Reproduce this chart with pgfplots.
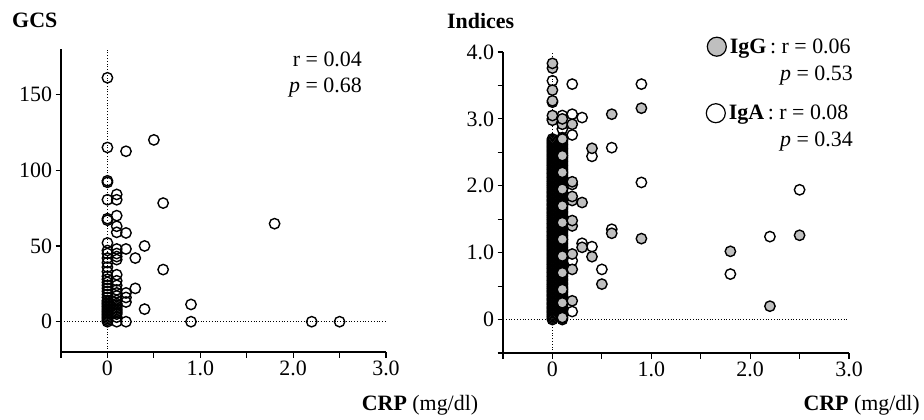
\documentclass[border=0pt]{standalone}
\usepackage{pgfplots}
\pgfplotsset{compat=1.18}
\usepackage{fontspec}
\setmainfont{Liberation Serif}
\newcommand{\fs}{\fontsize{22}{25}\selectfont}
\pgfplotsset{
  crpaxis/.style={
    scale only axis,
    axis lines=left,
    axis line style={-, line width=1.4bp},
    tick align=outside,
    major tick length=5.5bp, minor tick length=5.5bp,
    every tick/.style={black, line width=1.2bp},
    ticklabel style={font=\fs},
    xmin=-0.5, xmax=3,
    xtick={0,1,2,3}, xticklabels={0,1.0,2.0,3.0},
    minor xtick={-0.5,0.5,1.5,2.5},
    clip=false,
  },
  opencirc/.style={only marks, mark=o, mark size=5.2bp, mark options={line width=1.4bp, fill=white, draw=black}},
  filledcirc/.style={only marks, mark=*, mark size=5.2bp, mark options={line width=1.4bp, fill=black!25, draw=black}},
}
\begin{document}
\begin{tikzpicture}[x=1bp,y=1bp]
\useasboundingbox (0,0) rectangle (924,419);
% ---------------- left panel -----------------
\begin{axis}[crpaxis, at={(61bp,67bp)}, anchor=south west, width=325bp, height=303bp,
  ymin=-20, ymax=180, ytick={0,50,100,150}, yticklabels={0,50,100,150}]
\addplot[black, dotted, line width=0.8bp] coordinates {(0,-20) (0,180)};
\addplot[black, dotted, line width=0.8bp] coordinates {(-0.5,0) (3,0)};
\addplot[opencirc] coordinates {
(0,0) (0,1) (0,2) (0,3) (0,4) (0,5) (0,6) (0,7) (0,8) (0,9) (0,10) (0,11) (0,12) (0,13) (0,14) (0,16) (0,18) (0,20) (0,22) (0,24) (0,26) (0,28) (0,30) (0,33) (0,36) (0,39) (0,42) (0,45) (0,47)
(0,52) (0,67) (0,68) (0,80.5) (0,92) (0,93) (0,115) (0,161)
(0.1,0) (0.1,3) (0.1,5) (0.1,6) (0.1,7) (0.1,8) (0.1,9) (0.1,10) (0.1,11) (0.1,12) (0.1,14) (0.1,17) (0.1,19) (0.1,21) (0.1,24) (0.1,27) (0.1,31) (0.1,41) (0.1,43) (0.1,45) (0.1,48) (0.1,59) (0.1,63) (0.1,70) (0.1,80.5) (0.1,84)
(0.2,0) (0.2,13) (0.2,16) (0.2,19) (0.2,48) (0.2,58.6) (0.2,112.5)
(0.3,22) (0.3,42)
(0.4,8.3) (0.4,50)
(0.5,120)
(0.6,34.4) (0.6,78.3)
(0.9,0) (0.9,11.4)
(1.8,64.7)
(2.2,0) (2.5,0)
};
\end{axis}
% ---------------- right panel -----------------
\begin{axis}[crpaxis, at={(503bp,66bp)}, anchor=south west, width=346bp, height=301bp,
  ymin=-0.5, ymax=4, ytick={0,1,2,3,4}, yticklabels={0,1.0,2.0,3.0,4.0},
  minor ytick={-0.5,0.5,1.5,2.5,3.5}]
\addplot[black, dotted, line width=0.8bp] coordinates {(0,-0.5) (0,4)};
\addplot[black, dotted, line width=0.8bp] coordinates {(-0.5,0) (3,0)};
% IgA (open)
\addplot[opencirc] coordinates {
(0,0) (0,0.02) (0,0.04) (0,0.06) (0,0.08) (0,0.1) (0,0.12) (0,0.14) (0,0.16) (0,0.18)
(0,0.2) (0,0.22) (0,0.24) (0,0.26) (0,0.28) (0,0.3) (0,0.32) (0,0.34) (0,0.36) (0,0.38)
(0,0.4) (0,0.42) (0,0.44) (0,0.46) (0,0.48) (0,0.5) (0,0.52) (0,0.54) (0,0.56) (0,0.58)
(0,0.6) (0,0.62) (0,0.64) (0,0.66) (0,0.68) (0,0.7) (0,0.72) (0,0.74) (0,0.76) (0,0.78)
(0,0.8) (0,0.82) (0,0.84) (0,0.86) (0,0.88) (0,0.9) (0,0.92) (0,0.94) (0,0.96) (0,0.98)
(0,1.0) (0,1.02) (0,1.04) (0,1.06) (0,1.08) (0,1.1) (0,1.12) (0,1.14) (0,1.16) (0,1.18)
(0,1.2) (0,1.22) (0,1.24) (0,1.26) (0,1.28) (0,1.3) (0,1.32) (0,1.34) (0,1.36) (0,1.38)
(0,1.4) (0,1.42) (0,1.44) (0,1.46) (0,1.48) (0,1.5) (0,1.52) (0,1.54) (0,1.56) (0,1.58)
(0,1.6) (0,1.62) (0,1.64) (0,1.66) (0,1.68) (0,1.7) (0,1.72) (0,1.74) (0,1.76) (0,1.78)
(0,1.8) (0,1.82) (0,1.84) (0,1.86) (0,1.88) (0,1.9) (0,1.92) (0,1.94) (0,1.96) (0,1.98)
(0,2.0) (0,2.02) (0,2.04) (0,2.06) (0,2.08) (0,2.1) (0,2.12) (0,2.14) (0,2.16) (0,2.18)
(0,2.2) (0,2.22) (0,2.24) (0,2.26) (0,2.28) (0,2.3) (0,2.32) (0,2.34) (0,2.36) (0,2.38)
(0,2.4) (0,2.42) (0,2.44) (0,2.46) (0,2.48) (0,2.5) (0,2.52) (0,2.54) (0,2.56) (0,2.58)
(0,2.6) (0,2.62) (0,2.64) (0,2.66) (0,2.68) (0,2.7) (0,3.0) (0,3.57)
(0.1,0) (0.1,0.02) (0.1,0.04) (0.1,0.06) (0.1,0.08) (0.1,0.1) (0.1,0.12) (0.1,0.14) (0.1,0.16) (0.1,0.18)
(0.1,0.2) (0.1,0.22) (0.1,0.24) (0.1,0.26) (0.1,0.28) (0.1,0.3) (0.1,0.32) (0.1,0.34) (0.1,0.36) (0.1,0.38)
(0.1,0.4) (0.1,0.42) (0.1,0.44) (0.1,0.46) (0.1,0.48) (0.1,0.5) (0.1,0.52) (0.1,0.54) (0.1,0.56) (0.1,0.58)
(0.1,0.6) (0.1,0.62) (0.1,0.64) (0.1,0.66) (0.1,0.68) (0.1,0.7) (0.1,0.72) (0.1,0.74) (0.1,0.76) (0.1,0.78)
(0.1,0.8) (0.1,0.82) (0.1,0.84) (0.1,0.86) (0.1,0.88) (0.1,0.9) (0.1,0.92) (0.1,0.94) (0.1,0.96) (0.1,0.98)
(0.1,1.0) (0.1,1.02) (0.1,1.04) (0.1,1.06) (0.1,1.08) (0.1,1.1) (0.1,1.12) (0.1,1.14) (0.1,1.16) (0.1,1.18)
(0.1,1.2) (0.1,1.22) (0.1,1.24) (0.1,1.26) (0.1,1.28) (0.1,1.3) (0.1,1.32) (0.1,1.34) (0.1,1.36) (0.1,1.38)
(0.1,1.4) (0.1,1.42) (0.1,1.44) (0.1,1.46) (0.1,1.48) (0.1,1.5) (0.1,1.52) (0.1,1.54) (0.1,1.56) (0.1,1.58)
(0.1,1.6) (0.1,1.62) (0.1,1.64) (0.1,1.66) (0.1,1.68) (0.1,1.7) (0.1,1.72) (0.1,1.74) (0.1,1.76) (0.1,1.78)
(0.1,1.8) (0.1,1.82) (0.1,1.84) (0.1,1.86) (0.1,1.88) (0.1,1.9) (0.1,1.92) (0.1,1.94) (0.1,1.96) (0.1,1.98)
(0.1,2.0) (0.1,2.02) (0.1,2.04) (0.1,2.06) (0.1,2.08) (0.1,2.1) (0.1,2.12) (0.1,2.14) (0.1,2.16) (0.1,2.18)
(0.1,2.2) (0.1,2.22) (0.1,2.24) (0.1,2.26) (0.1,2.28) (0.1,2.3) (0.1,2.32) (0.1,2.34) (0.1,2.36) (0.1,2.38)
(0.1,2.4) (0.1,2.42) (0.1,2.44) (0.1,2.46) (0.1,2.48) (0.1,2.5) (0.1,2.52) (0.1,2.54) (0.1,2.56) (0.1,2.58)
(0.1,2.6) (0.1,2.62) (0.1,2.64) (0.1,2.66) (0.1,2.68) (0.1,2.7) (0.1,2.72)
(0.1,2.85) (0.1,3.05)
(0.2,0.12) (0.2,0.88) (0.2,2.76) (0.2,3.07) (0.2,3.52)
(0.3,1.14) (0.3,3.02)
(0.4,1.09) (0.4,2.44)
(0.5,0.75)
(0.6,1.35) (0.6,2.57)
(0.9,2.05) (0.9,3.52)
(1.8,0.68) (2.2,1.24) (2.5,1.94)
};
% IgG (filled)
\addplot[filledcirc] coordinates {
(0,2.98) (0,3.05) (0,3.25) (0,3.27) (0,3.43) (0,3.76) (0,3.83)
(0.1,0.03) (0.1,0.25) (0.1,0.45) (0.1,0.7) (0.1,0.95) (0.1,1.2) (0.1,1.45) (0.1,1.7) (0.1,1.95) (0.1,2.2) (0.1,2.45) (0.1,2.7) (0.1,2.92) (0.1,3.0)
(0.2,0.28) (0.2,0.75) (0.2,0.98) (0.2,1.40) (0.2,1.48) (0.2,1.78) (0.2,1.84) (0.2,2.02) (0.2,2.06) (0.2,2.92)
(0.3,1.08) (0.3,1.75)
(0.4,0.94) (0.4,2.56)
(0.5,0.53)
(0.6,1.29) (0.6,3.07)
(0.9,1.21) (0.9,3.16)
(1.8,1.02) (2.2,0.2) (2.5,1.26)
};
\end{axis}
% ---------------- texts -----------------
\node[anchor=base west, inner sep=0, font=\fs\bfseries] at (12,391) {GCS};
\node[anchor=base west, inner sep=0, font=\fs\bfseries] at (447,390) {Indices};
\node[anchor=base west, inner sep=0, font=\fs] at (361.7,9) {\textbf{CRP} (mg/dl)};
\node[anchor=base west, inner sep=0, font=\fs] at (803.3,9) {\textbf{CRP} (mg/dl)};
\node[anchor=base west, inner sep=0, font=\fs] at (292.7,352.3) {r = 0.04};
\node[anchor=base west, inner sep=0, font=\fs] at (289,326.3) {\textit{p} = 0.68};
\node[anchor=base west, inner sep=0, font=\fs] at (706.5,365.7) {\tikz[baseline=-6.6bp]\draw[line width=1.2bp, fill=black!25] (0,0) circle (9.5bp);\hspace{3bp}\textbf{IgG}\thinspace: r = 0.06};
\node[anchor=base west, inner sep=0, font=\fs] at (780,339) {\textit{p} = 0.53};
\node[anchor=base west, inner sep=0, font=\fs] at (705.5,299.7) {\tikz[baseline=-6.1bp]\draw[line width=1.2bp, fill=white] (0,0) circle (9.5bp);\hspace{3bp}\textbf{IgA}\thinspace: r = 0.08};
\node[anchor=base west, inner sep=0, font=\fs] at (780,272.3) {\textit{p} = 0.34};
\end{tikzpicture}
\end{document}
